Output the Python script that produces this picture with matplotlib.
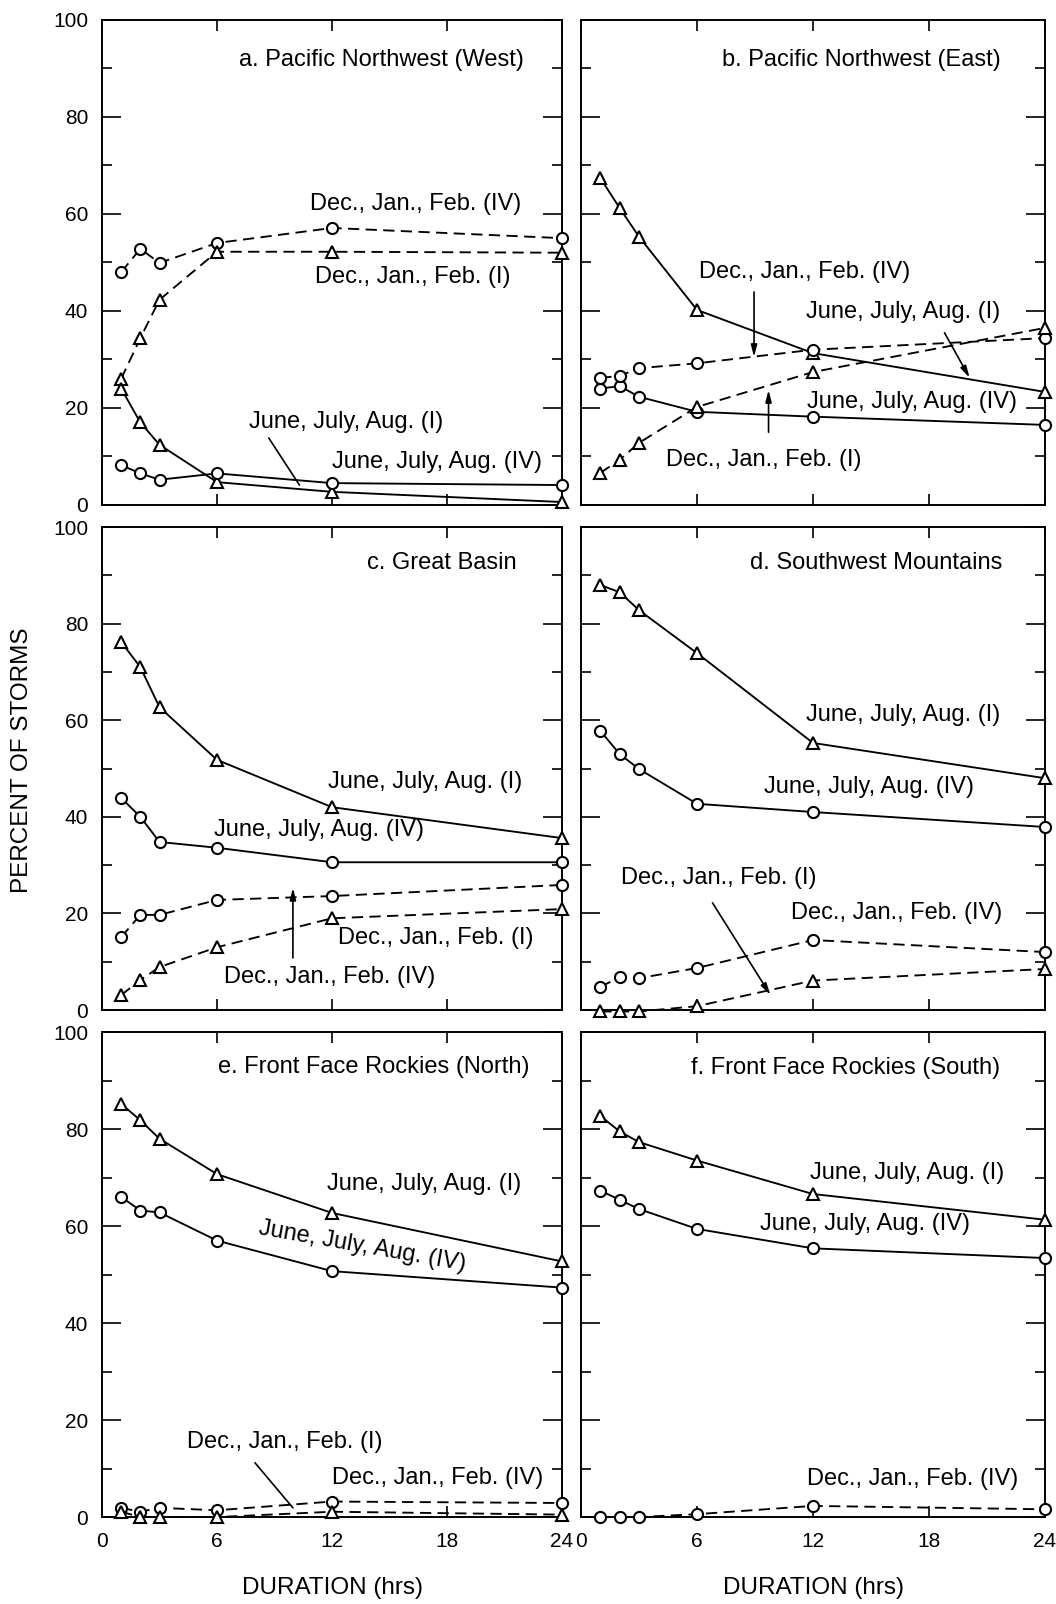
import matplotlib
matplotlib.use("Agg")
import matplotlib.pyplot as plt
from matplotlib.ticker import MultipleLocator

plt.rcParams['font.family'] = ['Liberation Sans', 'DejaVu Sans']

# storm durations (hrs)
durations = [1, 2, 3, 6, 12, 24]

# a. Pacific Northwest (West)
a_jja_I = [24, 17, 12.4, 4.7, 2.7, 0.6]
a_jja_IV = [8.2, 6.5, 5.2, 6.5, 4.5, 4.1]
a_djf_I = [26, 34.4, 42.3, 52.2, 52.2, 52]
a_djf_IV = [48, 52.8, 49.9, 54, 57.1, 55]

# b. Pacific Northwest (East)
b_jja_I = [67.4, 61.2, 55.3, 40.2, 31.3, 23.3]
b_jja_IV = [24, 24.5, 22.3, 19.2, 18.2, 16.5]
b_djf_I = [6.6, 9.3, 12.8, 20.2, 27.4, 36.5]
b_djf_IV = [26.2, 26.6, 28.2, 29.2, 32, 34.4]

# c. Great Basin
c_jja_I = [76.2, 71, 62.7, 51.8, 42, 35.6]
c_jja_IV = [43.9, 40, 34.8, 33.6, 30.6, 30.6]
c_djf_I = [3.1, 6.2, 8.9, 13, 19, 20.9]
c_djf_IV = [15.1, 19.7, 19.7, 22.8, 23.6, 25.9]

# d. Southwest Mountains
d_jja_I = [88, 86.5, 82.8, 73.9, 55.3, 48]
d_jja_IV = [57.8, 53, 49.9, 42.7, 41, 37.9]
d_djf_I = [-0.3, -0.3, -0.3, 0.8, 6.1, 8.5]
d_djf_IV = [4.8, 6.8, 6.6, 8.7, 14.5, 12]

# e. Front Face Rockies (North)
e_jja_I = [85.2, 81.8, 78, 70.7, 62.7, 52.7]
e_jja_IV = [66, 63.2, 62.8, 57, 50.7, 47.3]
e_djf_I = [1.1, 0, 0, 0, 1.1, 0.5]
e_djf_IV = [1.9, 1.1, 1.9, 1.4, 3.2, 2.9]

# f. Front Face Rockies (South)
f_jja_I = [82.7, 79.5, 77.3, 73.5, 66.6, 61.3]
f_jja_IV = [67.3, 65.4, 63.5, 59.4, 55.4, 53.4]
f_djf_IV = [0, 0, 0, 0.6, 2.3, 1.6]

TXT = 17
DASH = (6, 3.4)


def draw_series(ax, values, marker, dashed):
    kw = dict(color='black', lw=1.35, marker=marker, mfc='white', mec='black',
              mew=1.5, ms=8 if marker == 'o' else 9, clip_on=False, zorder=3)
    line, = ax.plot(durations, values, **kw)
    if dashed:
        line.set_dashes(DASH)
    return line


def arrow(ax, start, end, head=True):
    style = '-|>,head_length=0.7,head_width=0.18' if head else '-'
    ax.annotate('', xy=end, xytext=start,
                arrowprops=dict(arrowstyle=style, color='black', lw=1.2,
                                shrinkA=0, shrinkB=0))


def setup(ax, left_col, bottom_row):
    ax.set_xlim(0, 24)
    ax.set_ylim(0, 100)
    ax.set_xticks([0, 6, 12, 18, 24])
    ax.yaxis.set_major_locator(MultipleLocator(20))
    ax.yaxis.set_minor_locator(MultipleLocator(10))
    ax.tick_params(axis='both', which='both', direction='in', top=True, right=True,
                   labelsize=15, width=1.2)
    ax.tick_params(axis='x', length=8, pad=11)
    ax.tick_params(axis='y', which='major', length=14, pad=10)
    ax.tick_params(axis='y', which='minor', length=7)
    if not left_col:
        ax.tick_params(axis='y', labelleft=False)
    if not bottom_row:
        ax.tick_params(axis='x', labelbottom=False)
    for s in ax.spines.values():
        s.set_linewidth(1.4)


fig = plt.figure(figsize=(10.56, 16.04), dpi=100)

cols = [(0.0966, 0.4356), (0.5502, 0.4394)]
rows = [(0.6852, 0.3024), (0.3703, 0.3011), (0.0542, 0.3024)]

axes = {}
for r, (b, h) in enumerate(rows):
    for c, (l, w) in enumerate(cols):
        ax = fig.add_axes([l, b, w, h])
        setup(ax, c == 0, r == 2)
        axes['abcdef'[r * 2 + c]] = ax

djf4 = 'Dec., Jan., Feb. (IV)'
djf1 = 'Dec., Jan., Feb. (I)'
jja4 = 'June, July, Aug. (IV)'
jja1 = 'June, July, Aug. (I)'

# panel a
ax = axes['a']
draw_series(ax, a_djf_IV, 'o', True)
draw_series(ax, a_djf_I, '^', True)
draw_series(ax, a_jja_I, '^', False)
draw_series(ax, a_jja_IV, 'o', False)
ax.text(22, 91.8, 'a. Pacific Northwest (West)', fontsize=TXT, ha='right', va='center')
ax.text(16.35, 62, djf4, fontsize=TXT, ha='center', va='center')
ax.text(16.2, 47, djf1, fontsize=TXT, ha='center', va='center')
ax.text(12.75, 17.1, jja1, fontsize=TXT, ha='center', va='center')
ax.text(17.5, 8.9, jja4, fontsize=TXT, ha='center', va='center')
arrow(ax, (8.7, 13.8), (10.3, 4.1), head=False)

# panel b
ax = axes['b']
draw_series(ax, b_jja_I, '^', False)
draw_series(ax, b_jja_IV, 'o', False)
draw_series(ax, b_djf_IV, 'o', True)
draw_series(ax, b_djf_I, '^', True)
ax.text(21.7, 91.8, 'b. Pacific Northwest (East)', fontsize=TXT, ha='right', va='center')
ax.text(11.55, 48, djf4, fontsize=TXT, ha='center', va='center')
arrow(ax, (8.95, 43.9), (8.95, 30.5))
ax.text(16.65, 39.8, jja1, fontsize=TXT, ha='center', va='center')
arrow(ax, (18.8, 35.5), (20.1, 26.2))
ax.text(17.1, 21.2, jja4, fontsize=TXT, ha='center', va='center')
ax.text(9.45, 9.3, djf1, fontsize=TXT, ha='center', va='center')
arrow(ax, (9.7, 15), (9.7, 23.7))

# panel c
ax = axes['c']
draw_series(ax, c_jja_I, '^', False)
draw_series(ax, c_jja_IV, 'o', False)
draw_series(ax, c_djf_IV, 'o', True)
draw_series(ax, c_djf_I, '^', True)
ax.text(21.65, 92.5, 'c. Great Basin', fontsize=TXT, ha='right', va='center')
ax.text(16.85, 47.2, jja1, fontsize=TXT, ha='center', va='center')
ax.text(11.3, 37.3, jja4, fontsize=TXT, ha='center', va='center')
ax.text(17.4, 15, djf1, fontsize=TXT, ha='center', va='center')
ax.text(11.9, 6.8, djf4, fontsize=TXT, ha='center', va='center')
arrow(ax, (9.96, 10.8), (9.96, 25.3))

# panel d
ax = axes['d']
draw_series(ax, d_jja_I, '^', False)
draw_series(ax, d_jja_IV, 'o', False)
draw_series(ax, d_djf_IV, 'o', True)
draw_series(ax, d_djf_I, '^', True)
ax.text(21.8, 92.5, 'd. Southwest Mountains', fontsize=TXT, ha='right', va='center')
ax.text(16.65, 61, jja1, fontsize=TXT, ha='center', va='center')
ax.text(14.9, 46.2, jja4, fontsize=TXT, ha='center', va='center')
ax.text(7.1, 27.3, djf1, fontsize=TXT, ha='center', va='center')
ax.text(16.35, 20, djf4, fontsize=TXT, ha='center', va='center')
arrow(ax, (6.8, 22.2), (9.8, 3.1))

# panel e
ax = axes['e']
draw_series(ax, e_jja_I, '^', False)
draw_series(ax, e_jja_IV, 'o', False)
draw_series(ax, e_djf_IV, 'o', True)
draw_series(ax, e_djf_I, '^', True)
ax.text(22.3, 92.8, 'e. Front Face Rockies (North)', fontsize=TXT, ha='right', va='center')
ax.text(16.8, 68.7, jja1, fontsize=TXT, ha='center', va='center')
ax.text(13.6, 55.8, jja4, fontsize=TXT, ha='center', va='center',
        rotation=-10, rotation_mode='anchor')
ax.text(9.55, 15.5, djf1, fontsize=TXT, ha='center', va='center')
arrow(ax, (7.98, 11.2), (9.96, 1.9), head=False)
ax.text(17.5, 8, djf4, fontsize=TXT, ha='center', va='center')

# panel f
ax = axes['f']
draw_series(ax, f_jja_I, '^', False)
draw_series(ax, f_jja_IV, 'o', False)
draw_series(ax, f_djf_IV, 'o', True)
ax.text(21.7, 92.5, 'f. Front Face Rockies (South)', fontsize=TXT, ha='right', va='center')
ax.text(16.85, 71, jja1, fontsize=TXT, ha='center', va='center')
ax.text(14.7, 60.4, jja4, fontsize=TXT, ha='center', va='center')
ax.text(17.15, 7.8, djf4, fontsize=TXT, ha='center', va='center')

fig.text(0.3144, 0.010, 'DURATION (hrs)', fontsize=17.5, ha='center', va='center')
fig.text(0.7699, 0.010, 'DURATION (hrs)', fontsize=17.5, ha='center', va='center')
fig.text(0.0208, 0.526, 'PERCENT OF STORMS', fontsize=17.5, ha='center', va='center',
         rotation=90)

fig.savefig('out.png', dpi=100)
